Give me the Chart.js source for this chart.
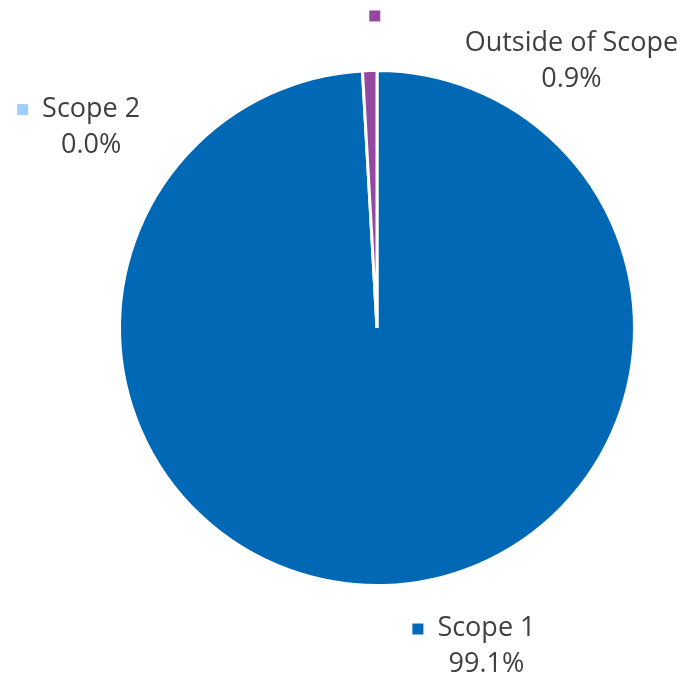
<!DOCTYPE html>
<html>
<head>
<meta charset="utf-8">
<script src="https://cdn.jsdelivr.net/npm/chart.js@4.4.1/dist/chart.umd.min.js"></script>
<style>
  html, body { margin: 0; padding: 0; background: #fff; }
  #wrap { width: 683px; height: 680px; }
</style>
</head>
<body>
<div id="wrap"><canvas id="pie"></canvas></div>
<script>
const categories = ["Scope 1", "Scope 2", "Outside of Scope"];
const shares = [99.1, 0.0, 0.9];
const colors = ["#0068B5", "#9DCFFF", "#9548A0"];

// label anchors relative to the pie centre, in units of the radius
const labelSpots = [
    { dx: 0.425, dy: 1.167 },
    { dx: -1.11, dy: -0.85 },
    { dx: 0.755, dy: -1.105, keyAbove: true }
];

const sliceLabels = {
    id: "sliceLabels",
    afterDatasetsDraw(chart) {
        const ctx = chart.ctx;
        const arc = chart.getDatasetMeta(0).data[0];
        const cx = arc.x, cy = arc.y, r = arc.outerRadius;
        ctx.save();
        ctx.font = "27px 'Open Sans', sans-serif";
        ctx.textBaseline = "middle";
        ctx.textAlign = "center";
        categories.forEach(function (name, i) {
            const s = labelSpots[i];
            const x = cx + s.dx * r;
            const y = cy + s.dy * r;
            const pct = shares[i].toFixed(1) + "%";
            ctx.fillStyle = "#404040";
            ctx.fillText(name, x, y);
            ctx.fillText(pct, x, y + 36);
            const w = ctx.measureText(name).width;
            ctx.fillStyle = colors[i];
            if (s.keyAbove) {
                ctx.fillRect(cx - 0.03 * r, y - 33, 11, 11);
            } else {
                ctx.fillRect(x - w / 2 - 25, y - 5, 11, 11);
            }
        });
        ctx.restore();
    }
};

new Chart(document.getElementById("pie"), {
    type: "pie",
    data: {
        labels: categories,
        datasets: [{
            data: shares,
            backgroundColor: colors,
            borderColor: "#ffffff",
            borderWidth: 3
        }]
    },
    options: {
        responsive: true,
        maintainAspectRatio: false,
        animation: false,
        layout: { padding: { left: 118, right: 47, top: 69, bottom: 93 } },
        plugins: {
            legend: { display: false },
            tooltip: { enabled: false }
        }
    },
    plugins: [sliceLabels]
});
</script>
</body>
</html>
